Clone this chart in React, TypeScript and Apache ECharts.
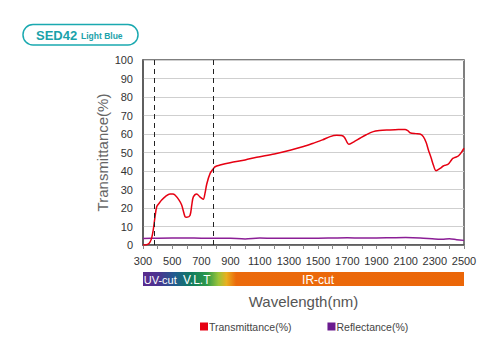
import React, { useEffect, useRef } from "react";
import * as echarts from "echarts";

const xTickLabels = [300, 500, 700, 900, 1100, 1300, 1500, 1700, 1900, 2100, 2300, 2500];
const yTickLabels = [0, 10, 20, 30, 40, 50, 60, 70, 80, 90, 100];
const dashedMarks = [380, 780];

const transWave = [300, 314, 335, 348, 360, 370, 382, 394, 410, 428, 455, 485, 505, 519, 545, 565, 588, 600, 622, 635, 645, 668, 690, 713, 725, 737, 760, 780, 794, 828, 897, 1000, 1079, 1200, 1308, 1400, 1467, 1530, 1582, 1628, 1660, 1680, 1712, 1750, 1787, 1830, 1878, 1920, 1970, 2050, 2096, 2115, 2130, 2170, 2198, 2221, 2240, 2256, 2275, 2290, 2308, 2336, 2358, 2380, 2393, 2410, 2423, 2440, 2461, 2480, 2500];
const transValues = [0, 0, 0.5, 1.5, 4, 8, 15, 20.7, 22.5, 24.3, 26.3, 27.6, 27.6, 27, 24.5, 21.6, 15.3, 15, 15.9, 22, 26, 27.6, 26, 24.7, 28, 33, 38.7, 41, 42.3, 43.2, 44.5, 46, 47.4, 49.2, 51.2, 53.2, 55, 56.8, 58.6, 59.3, 59.2, 58.3, 54.4, 56, 57.7, 59.6, 61.3, 61.9, 62.2, 62.4, 62.5, 61.8, 60.7, 60.2, 60, 58.6, 55.5, 51.4, 47, 43.2, 40.2, 41.4, 42.7, 43.3, 43.8, 45.5, 46.8, 47.4, 48.1, 49.8, 52.3];

const reflWave = [300, 400, 500, 600, 700, 800, 900, 1000, 1100, 1200, 1300, 1400, 1500, 1600, 1700, 1800, 1900, 2000, 2100, 2200, 2300, 2350, 2400, 2450, 2500];
const reflValues = [3.5, 3.7, 3.8, 3.8, 3.7, 3.7, 3.6, 3.3, 3.8, 3.6, 3.7, 3.7, 3.7, 3.8, 3.9, 3.8, 3.8, 3.9, 4, 3.8, 3.2, 3.1, 3.4, 2.9, 2.5];

const seriesNames = ["Transmittance(%)", "Reflectance(%)"];
const bandLabels = ["UV-cut", "V.L.T", "IR-cut"];
const bandCenters = [418, 668, 1500];

const FONT = "'Liberation Sans', Arial, sans-serif";

export default function App() {
  const ref = useRef<HTMLDivElement>(null);
  useEffect(() => {
    if (!ref.current) return;
    const chart = echarts.init(ref.current, null, { renderer: "svg" });
    const tData = transWave.map((w, i) => [w, transValues[i]]);
    const rData = reflWave.map((w, i) => [w, reflValues[i]]);
    chart.setOption({
      animation: false,
      backgroundColor: "#ffffff",
      textStyle: { fontFamily: FONT },
      grid: { left: 143, right: 36, top: 60, bottom: 105, show: true, borderColor: "#555", borderWidth: 1.5, backgroundColor: "transparent" },
      xAxis: {
        type: "value",
        min: 300,
        max: 2500,
        interval: 100,
        name: "Wavelength(nm)",
        nameLocation: "middle",
        nameGap: 49,
        nameMoveOverlap: false,
        nameTextStyle: { color: "#555", fontSize: 15, fontFamily: FONT },
        axisLine: { show: true, lineStyle: { color: "#555", width: 1.5 } },
        axisTick: { show: true, length: 4, lineStyle: { color: "#888" } },
        axisLabel: {
          color: "#333",
          fontSize: 11,
          margin: 10,
          fontFamily: FONT,
          formatter: (v: number) => (xTickLabels.includes(v) ? String(v) : ""),
        },
        splitLine: { show: false },
      },
      yAxis: {
        type: "value",
        min: 0,
        max: 100,
        interval: 10,
        name: "Transmittance(%)",
        nameLocation: "middle",
        nameGap: 33,
        nameMoveOverlap: false,
        nameRotate: 90,
        nameTextStyle: { color: "#666", fontSize: 15, fontFamily: FONT },
        axisLine: { show: true, lineStyle: { color: "#555", width: 1.5 } },
        axisTick: { show: false },
        axisLabel: {
          color: "#333",
          fontSize: 11,
          margin: 10,
          fontFamily: FONT,
          formatter: (v: number) => (yTickLabels.includes(v) ? String(v) : ""),
        },
        splitLine: { show: true, lineStyle: { color: "#cfcfcf", width: 1 } },
      },
      legend: {
        bottom: 13,
        left: 195,
        itemGap: 36,
        itemWidth: 8,
        itemHeight: 8,
        icon: "rect",
        textStyle: { color: "#444", fontSize: 10.5, fontFamily: FONT, padding: [0, 0, 0, -4] },
        data: seriesNames,
      },
      series: [
        {
          name: seriesNames[0],
          type: "line",
          data: tData,
          smooth: 0.3,
          showSymbol: false,
          symbol: "none",
          lineStyle: { color: "#e60012", width: 1.5 },
          itemStyle: { color: "#e60012" },
          z: 3,
          markLine: {
            silent: true,
            symbol: "none",
            label: { show: false },
            lineStyle: { color: "#222", type: [5, 4], width: 1 },
            data: dashedMarks.map((x) => ({ xAxis: x })),
          },
        },
        {
          name: seriesNames[1],
          type: "line",
          data: rData,
          smooth: 0.3,
          showSymbol: false,
          symbol: "none",
          lineStyle: { color: "#8b1e96", width: 1.5 },
          itemStyle: { color: "#6a1b8f" },
          z: 2,
        },
      ],
    });

    const x0 = chart.convertToPixel({ xAxisIndex: 0 }, 300) as number;
    const x1 = chart.convertToPixel({ xAxisIndex: 0 }, 2500) as number;
    const barY = 272;
    const barH = 14;
    chart.setOption({
      graphic: [
        {
          type: "rect",
          shape: { x: 23, y: 24.5, width: 115, height: 20.5, r: 10 },
          style: { fill: "#fff", stroke: "#1aa9b0", lineWidth: 1.5 },
        },
        {
          type: "text",
          x: 36,
          y: 35,
          style: { text: "SED42", fill: "#1aa2aa", font: `bold 13px ${FONT}`, verticalAlign: "middle" },
        },
        {
          type: "text",
          x: 81,
          y: 35.5,
          style: { text: "Light Blue", fill: "#1aa2aa", font: `bold 8.5px ${FONT}`, verticalAlign: "middle" },
        },
        {
          type: "rect",
          shape: { x: x0, y: barY, width: x1 - x0, height: barH },
          style: {
            fill: new echarts.graphic.LinearGradient(0, 0, 1, 0, [
              { offset: 0, color: "#5a2a8e" },
              { offset: 0.05, color: "#4a3590" },
              { offset: 0.1, color: "#1f5c8e" },
              { offset: 0.15, color: "#117a5e" },
              { offset: 0.2, color: "#2f9a4a" },
              { offset: 0.235, color: "#9cc43a" },
              { offset: 0.26, color: "#e8b020" },
              { offset: 0.29, color: "#eb6a0c" },
              { offset: 1, color: "#eb6608" },
            ]),
          },
        },
        ...bandLabels.map((t, i) => ({
          type: "text",
          x: chart.convertToPixel({ xAxisIndex: 0 }, bandCenters[i]) as number,
          y: barY + barH / 2 + 0.5,
          style: {
            text: t,
            fill: "#fff",
            font: `${i === 0 ? 11 : 12}px ${FONT}`,
            align: "center",
            verticalAlign: "middle",
          },
        })),
      ],
    });
    return () => chart.dispose();
  }, []);
  return <div ref={ref} style={{ width: 500, height: 350, position: "absolute", left: 0, top: 0 }} />;
}
